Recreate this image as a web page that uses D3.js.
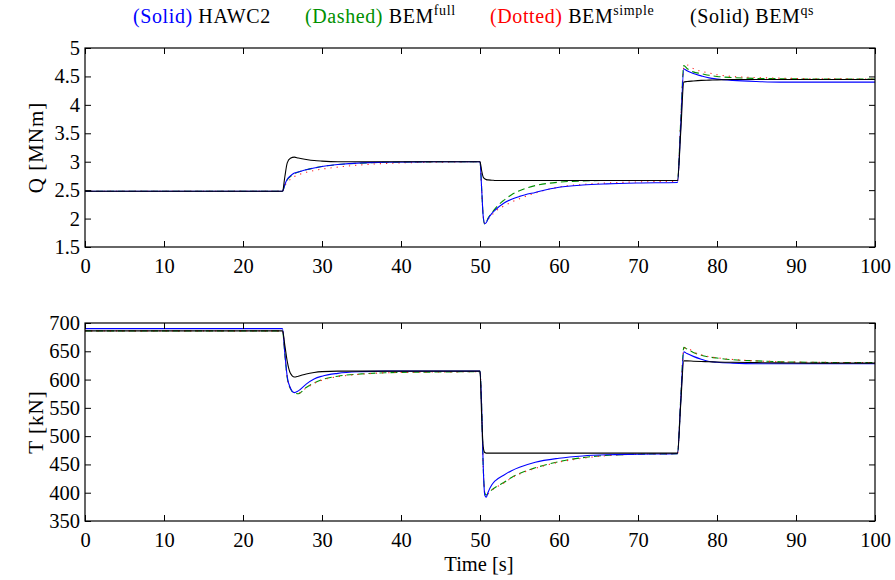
<!DOCTYPE html>
<html>
<head>
<meta charset="utf-8">
<script src="https://cdn.jsdelivr.net/npm/d3@7"></script>
<style>
  html, body { margin: 0; padding: 0; background: #fff; }
  svg { display: block; }
  svg text { font-family: "Liberation Serif", "Times New Roman", Times, "DejaVu Serif", serif; }
</style>
</head>
<body>
<svg id="chart" width="895" height="580"></svg>
<script>
// Time samples [s] shared by all series (denser around the load steps)
const time = [0, 25, 25.3, 25.6, 26, 26.5, 27, 28, 29, 30, 32, 35, 38, 42, 46,
  50, 50.2, 50.4, 50.6, 50.8, 51, 51.5, 52, 53, 54, 55, 57, 60, 63, 66, 70,
  75, 75.4, 75.8, 76.2, 77, 78, 79, 80, 82, 85, 88, 92, 100];

// Aerodynamic torque Q [MNm]
const qHawc2 = [2.48, 2.48, 2.60, 2.69, 2.75, 2.80, 2.82, 2.86, 2.89, 2.915, 2.95, 2.98, 2.99, 2.998, 3.0,
  3.0, 2.55, 2.05, 1.91, 1.93, 1.99, 2.09, 2.16, 2.27, 2.34, 2.39, 2.46, 2.55, 2.59, 2.61, 2.625,
  2.635, 3.6, 4.63, 4.60, 4.55, 4.51, 4.475, 4.455, 4.43, 4.41, 4.40, 4.40, 4.40];
const qBemFull = [2.48, 2.48, 2.59, 2.68, 2.74, 2.79, 2.82, 2.86, 2.89, 2.915, 2.95, 2.975, 2.99, 2.995, 3.0,
  3.0, 2.55, 2.05, 1.90, 1.93, 2.00, 2.10, 2.19, 2.32, 2.42, 2.49, 2.58, 2.64, 2.66, 2.67, 2.67,
  2.67, 3.7, 4.69, 4.64, 4.58, 4.55, 4.52, 4.50, 4.48, 4.465, 4.46, 4.455, 4.455];
const qBemSimple = [2.48, 2.48, 2.58, 2.64, 2.69, 2.74, 2.77, 2.815, 2.845, 2.87, 2.905, 2.945, 2.97, 2.985, 2.995,
  3.0, 2.55, 2.05, 1.92, 1.94, 1.98, 2.06, 2.13, 2.22, 2.29, 2.35, 2.45, 2.555, 2.60, 2.625, 2.645,
  2.655, 3.7, 4.66, 4.70, 4.64, 4.59, 4.56, 4.53, 4.50, 4.48, 4.47, 4.46, 4.455];
const qBemQs = [2.48, 2.48, 2.74, 2.98, 3.06, 3.08, 3.065, 3.04, 3.02, 3.01, 3.0, 3.0, 3.0, 3.0, 3.0,
  3.0, 2.85, 2.73, 2.70, 2.685, 2.68, 2.675, 2.67, 2.67, 2.67, 2.67, 2.67, 2.67, 2.67, 2.67, 2.67,
  2.67, 3.5, 4.40, 4.41, 4.42, 4.43, 4.435, 4.44, 4.445, 4.445, 4.445, 4.445, 4.445];

// Rotor thrust T [kN]
const tHawc2 = [690, 690, 646, 605, 585, 577, 580, 592, 601, 606, 611, 614, 615, 615, 615,
  615, 555, 450, 396, 392, 400, 414, 422, 431, 439, 445, 454, 461, 465, 467, 468,
  469, 560, 649, 646, 641, 636, 632, 630.5, 629, 628, 628, 628, 628];
const tBemFull = [686, 686, 644, 603, 584, 576, 575, 586, 594, 600, 606, 610, 612, 613, 613.5,
  614, 555, 450, 400, 396, 398, 405, 410, 418, 427, 434, 444, 455, 462, 466, 468,
  469, 565, 657, 654, 648, 643, 640, 638, 635, 633, 631.5, 630.5, 630];
const tBemSimple = [686, 686, 645, 604, 585, 577, 576, 585, 593, 599, 605, 609.5, 612, 613, 613.5,
  614, 555, 450, 400, 397, 398, 404, 409, 417, 426, 433, 443, 454, 461, 465.5, 468,
  469, 565, 655, 656, 649, 644, 640.5, 638.5, 635.5, 633, 631.5, 630.5, 630];
const tBemQs = [686, 686, 660, 632, 611, 604.5, 606, 610, 612.5, 614, 615, 615, 615, 615, 615,
  615, 540, 482, 471, 470, 470, 470, 470, 470, 470, 470, 470, 470, 470, 470, 470,
  470, 555, 633, 633, 632.5, 632, 631.5, 631, 630.5, 630, 629.5, 629, 629];

// Tick labels
const timeTicks = [0, 10, 20, 30, 40, 50, 60, 70, 80, 90, 100];
const torqueTicks = [1.5, 2, 2.5, 3, 3.5, 4, 4.5, 5];
const thrustTicks = [350, 400, 450, 500, 550, 600, 650, 700];

// Legend entries
const legendStyles = ["(Solid)", "(Dashed)", "(Dotted)", "(Solid)"];
const legendNames = ["HAWC2", "BEM", "BEM", "BEM"];
const legendSupers = ["", "full", "simple", "qs"];

const svg = d3.select("#chart");
const left = 85, right = 875;
const tickLen = 6;
const serif = '"Liberation Serif", "Times New Roman", Times, "DejaVu Serif", serif';

const x = d3.scaleLinear().domain([0, 100]).range([left, right]);

const seriesStyle = [
  { color: "#009000", dash: "7,4" },      // BEM full
  { color: "#ff2020", dash: "1.2,5" },    // BEM simple
  { color: "#0000ff", dash: null },       // HAWC2
  { color: "#000000", dash: null }        // BEM qs
];

function panel(top, bottom, domain, ticks, series, ylabel, idx) {
  const y = d3.scaleLinear().domain(domain).range([bottom, top]);
  const g = svg.append("g");
  const fmt = d => String(d);

  const clipId = "clip" + idx;
  svg.append("clipPath").attr("id", clipId)
    .append("rect").attr("x", left).attr("y", top)
    .attr("width", right - left).attr("height", bottom - top);

  // series
  const line = d3.line()
    .x((d, i) => x(time[i]))
    .y(d => y(d))
    .curve(d3.curveMonotoneX);
  series.forEach((vals, k) => {
    const st = seriesStyle[k];
    g.append("path")
      .attr("clip-path", `url(#${clipId})`)
      .attr("d", line(vals))
      .attr("fill", "none")
      .attr("stroke", st.color)
      .attr("stroke-width", 1.1)
      .attr("stroke-dasharray", st.dash);
  });

  // axes with inward ticks on all four sides
  const axB = g.append("g").attr("transform", `translate(0,${bottom})`)
    .call(d3.axisBottom(x).tickValues(timeTicks).tickFormat(fmt)
      .tickSizeInner(-tickLen).tickSizeOuter(0).tickPadding(11));
  const axT = g.append("g").attr("transform", `translate(0,${top})`)
    .call(d3.axisTop(x).tickValues(timeTicks).tickFormat("")
      .tickSizeInner(-tickLen).tickSizeOuter(0));
  const axL = g.append("g").attr("transform", `translate(${left},0)`)
    .call(d3.axisLeft(y).tickValues(ticks).tickFormat(fmt)
      .tickSizeInner(-tickLen).tickSizeOuter(0).tickPadding(5));
  const axR = g.append("g").attr("transform", `translate(${right},0)`)
    .call(d3.axisRight(y).tickValues(ticks).tickFormat("")
      .tickSizeInner(-tickLen).tickSizeOuter(0));
  [axB, axT, axL, axR].forEach(a => {
    a.attr("font-family", serif).attr("font-size", 20.5);
    a.select(".domain").remove();
    a.selectAll("line").attr("stroke", "#000").attr("stroke-width", 1);
    a.selectAll("text").attr("fill", "#000");
  });

  // frame
  g.append("rect")
    .attr("x", left).attr("y", top)
    .attr("width", right - left).attr("height", bottom - top)
    .attr("fill", "none").attr("stroke", "#000").attr("stroke-width", 1.2);

  // y label
  g.append("text")
    .attr("transform", `translate(43,${(top + bottom) / 2}) rotate(-90)`)
    .attr("text-anchor", "middle")
    .attr("font-family", serif)
    .attr("font-size", 21)
    .attr("letter-spacing", 1)
    .text(ylabel);
}

panel(48, 247, [1.5, 5], torqueTicks, [qBemFull, qBemSimple, qHawc2, qBemQs], "Q [MNm]", 0);
panel(323, 521, [350, 700], thrustTicks, [tBemFull, tBemSimple, tHawc2, tBemQs], "T [kN]", 1);

// x label
svg.append("text")
  .attr("x", 479).attr("y", 571)
  .attr("text-anchor", "middle")
  .attr("font-family", serif)
  .attr("font-size", 20.5)
  .text("Time [s]");

// legend across the top
const legendColors = ["#0000ff", "#009000", "#ff0000", "#000000"];
const legendX = [133, 305, 490, 690];
legendStyles.forEach((s, i) => {
  const t = svg.append("text")
    .attr("x", legendX[i]).attr("y", 23)
    .attr("font-family", serif)
    .attr("font-size", 20)
    .attr("letter-spacing", 0.6);
  t.append("tspan").attr("fill", legendColors[i]).text(s);
  t.append("tspan").attr("fill", "#000").text("\u00a0" + legendNames[i]);
  if (legendSupers[i]) {
    t.append("tspan").attr("fill", "#000").attr("font-size", 14)
      .attr("dy", -8).text(legendSupers[i]);
  }
});
</script>
</body>
</html>
